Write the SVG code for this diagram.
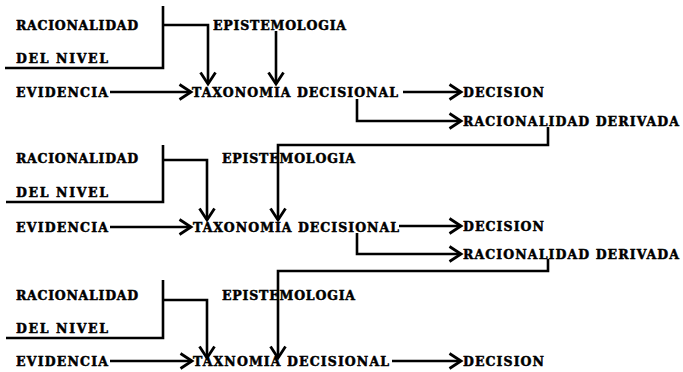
<svg xmlns="http://www.w3.org/2000/svg" width="683" height="372" viewBox="0 0 683 372">
<style>
text{font-family:"DejaVu Serif","Liberation Serif",serif;font-weight:bold;font-size:12.5px;fill:#000;stroke:#000;stroke-width:0.5}
.c{fill:none;stroke:#000;stroke-width:2.6;stroke-linejoin:miter}
.a{marker-end:url(#ah)}
</style>
<defs>
<marker id="ah" markerUnits="userSpaceOnUse" viewBox="0 0 16 18" refX="13" refY="9" markerWidth="16" markerHeight="18" orient="auto">
<path d="M1.5,1.5 L13,9 L1.5,16.5" fill="none" stroke="#000" stroke-width="2.8"/>
</marker>
</defs>
<rect width="683" height="372" fill="#fff"/>
<g id="connectors">
<path class="c" d="M5,68 H163 V6"/>
<path class="c a" d="M163,25 H208 V84"/>
<path class="c a" d="M276,31 V84"/>
<path class="c a" d="M110,92 H191"/>
<path class="c a" d="M403,92 H461"/>
<path class="c a" d="M357,99 V121 H461"/>
<path class="c a" d="M548,127 V145 H278 V220"/>
<path class="c" d="M6,202 H163 V145"/>
<path class="c a" d="M163,160 H207 V220"/>
<path class="c a" d="M110,227 H191"/>
<path class="c a" d="M399,226 H461"/>
<path class="c a" d="M357,233 V254 H461"/>
<path class="c a" d="M548,259 V271 H278 V358"/>
<path class="c" d="M6,338 H163 V280"/>
<path class="c a" d="M163,300 H207 V358"/>
<path class="c a" d="M110,361 H192"/>
<path class="c a" d="M392,361 H461"/>
</g>
<g id="b1-racionalidad"><text x="16" y="30" textLength="122" lengthAdjust="spacing">RACIONALIDAD</text></g>
<g id="b1-nivel"><text x="16" y="63" textLength="92" lengthAdjust="spacing">DEL NIVEL</text></g>
<g id="b1-epistemologia"><text x="213" y="30" textLength="133" lengthAdjust="spacing">EPISTEMOLOGIA</text></g>
<g id="b1-evidencia"><text x="16" y="97" textLength="92" lengthAdjust="spacing">EVIDENCIA</text></g>
<g id="b1-taxonomia"><text x="192" y="97" textLength="206" lengthAdjust="spacing">TAXONOMIA DECISIONAL</text></g>
<g id="b1-decision"><text x="463" y="97" textLength="81" lengthAdjust="spacing">DECISION</text></g>
<g id="b1-derivada"><text x="463" y="126" textLength="216" lengthAdjust="spacing">RACIONALIDAD DERIVADA</text></g>
<g id="b2-racionalidad"><text x="16" y="163" textLength="122" lengthAdjust="spacing">RACIONALIDAD</text></g>
<g id="b2-nivel"><text x="16" y="197" textLength="92" lengthAdjust="spacing">DEL NIVEL</text></g>
<g id="b2-epistemologia"><text x="222" y="163" textLength="133" lengthAdjust="spacing">EPISTEMOLOGIA</text></g>
<g id="b2-evidencia"><text x="16" y="232" textLength="92" lengthAdjust="spacing">EVIDENCIA</text></g>
<g id="b2-taxonomia"><text x="193" y="232" textLength="206" lengthAdjust="spacing">TAXONOMIA DECISIONAL</text></g>
<g id="b2-decision"><text x="463" y="231" textLength="81" lengthAdjust="spacing">DECISION</text></g>
<g id="b2-derivada"><text x="463" y="259" textLength="216" lengthAdjust="spacing">RACIONALIDAD DERIVADA</text></g>
<g id="b3-racionalidad"><text x="16" y="300" textLength="122" lengthAdjust="spacing">RACIONALIDAD</text></g>
<g id="b3-nivel"><text x="16" y="333" textLength="92" lengthAdjust="spacing">DEL NIVEL</text></g>
<g id="b3-epistemologia"><text x="222" y="300" textLength="133" lengthAdjust="spacing">EPISTEMOLOGIA</text></g>
<g id="b3-evidencia"><text x="16" y="366" textLength="92" lengthAdjust="spacing">EVIDENCIA</text></g>
<g id="b3-taxnomia"><text x="193" y="366" textLength="196" lengthAdjust="spacing">TAXNOMIA DECISIONAL</text></g>
<g id="b3-decision"><text x="463" y="366" textLength="81" lengthAdjust="spacing">DECISION</text></g>
</svg>
